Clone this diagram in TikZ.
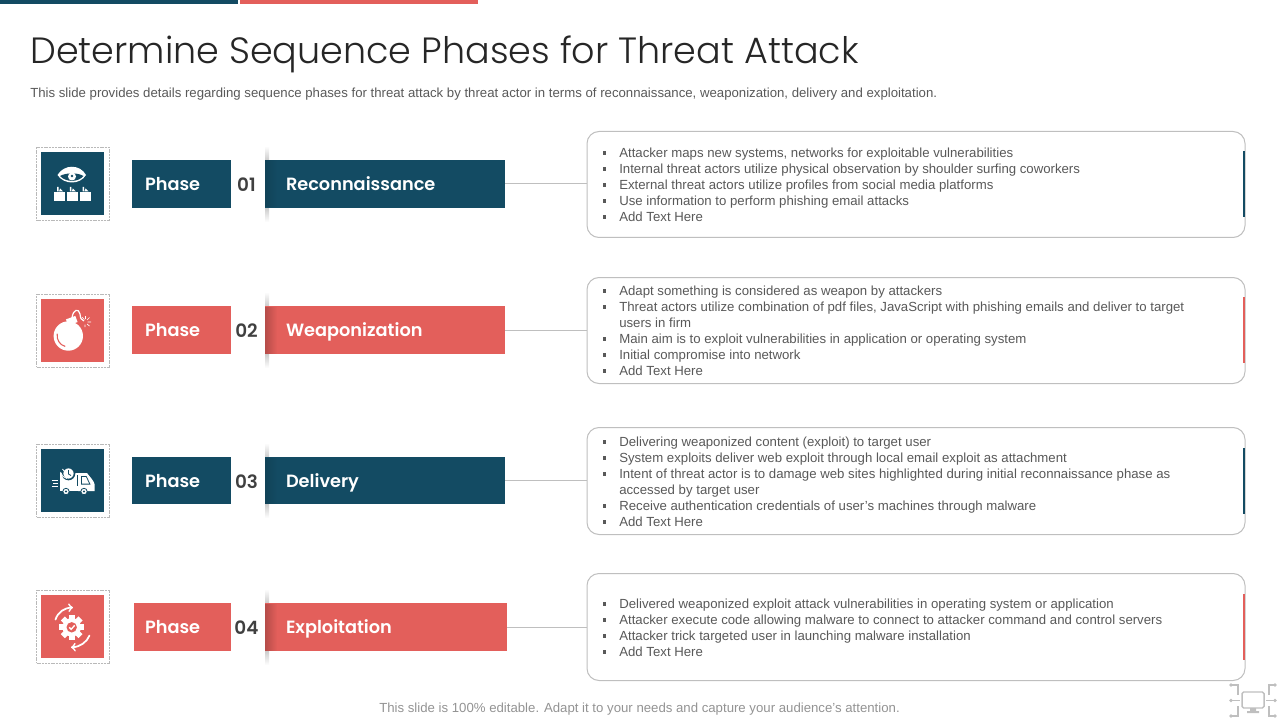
\documentclass[tikz,border=0pt]{standalone}
\usepackage{fontspec}
\setmainfont{Liberation Sans}
\newfontfamily\titlefont{Poppins Light}
\newfontfamily\headfont{Poppins SemiBold}
\definecolor{navy}{HTML}{134B63}
\definecolor{coral}{HTML}{E35F5B}
\definecolor{bodygray}{HTML}{595959}
\definecolor{rulegray}{HTML}{BFBFBF}
\newcommand{\itm}[1]{\makebox[12.4pt][l]{\raisebox{1.9pt}{\rule{2.4pt}{2.4pt}}}#1}
\newcommand{\cnt}[1]{\hspace*{12.4pt}#1}
\tikzset{
    framebox/.style={draw=gray!55, dash pattern=on 1.5pt off 0.6pt, line width=0.4pt, outer sep=0pt, minimum width=54.75pt, minimum height=54.75pt, inner sep=0pt, anchor=north west},
    iconbox/.style={fill=#1, outer sep=0pt, minimum width=47.25pt, minimum height=47.25pt, inner sep=0pt, anchor=north west},
    phasebox/.style={fill=#1, text=white, outer sep=0pt, font=\headfont\fontsize{13.3}{16}\selectfont, minimum height=36pt, inner ysep=0pt, inner xsep=9.75pt, text depth=3pt, text height=13pt, align=left, anchor=west},
    numlabel/.style={text=black!75, font=\headfont\fontsize{13.8}{16}\selectfont, inner sep=0pt},
    listbox/.style={draw=rulegray, line width=0.75pt, outer sep=0pt, rounded corners=9pt, fill=white, minimum width=493.5pt, inner sep=0pt, anchor=north west},
    listtext/.style={text=bodygray, font=\fontsize{9.9}{12}\selectfont, align=left, anchor=west, inner sep=0pt},
    link/.style={draw=rulegray, line width=0.75pt},
    softedge/.style={top color=white, bottom color=black!20, shading angle=#1},
}
\begin{document}
\begin{tikzpicture}[x=0.75pt, y=-0.75pt, >=to]
        \useasboundingbox (0,0) rectangle (1280,720);
        % ==== TOP BARS ====
        \fill[navy] (0,0) rectangle (238,4);
        \fill[coral] (240,0) rectangle (478,4);

        % ==== TITLE ====
        \node[anchor=west, inner sep=0pt, text=black!85, font=\titlefont\fontsize{27.4}{32}\selectfont] (title) at (30,54) {Determine Sequence Phases for Threat Attack};
        \node[anchor=west, inner sep=0pt, text=bodygray, font=\fontsize{9.9}{12}\selectfont] (subtitle) at (30,94) {This slide provides details regarding sequence phases for threat attack by threat actor in terms of reconnaissance, weaponization, delivery and exploitation.};

        % ==== SHADOWS ABOVE AND BELOW THE NAME BOXES ====
        \shade[softedge=0] (265,146) rectangle (269,160);
        \shade[softedge=180] (265,208) rectangle (269,222);
        \shade[softedge=0] (265,292) rectangle (269,306);
        \shade[softedge=180] (265,354) rectangle (269,368);
        \shade[softedge=0] (265,443) rectangle (269,457);
        \shade[softedge=180] (265,504) rectangle (269,518);
        \shade[softedge=0] (265,589) rectangle (269,603);
        \shade[softedge=180] (265,651) rectangle (269,665);

        % ==== ROW 1 ====
        \node[framebox] (reconframe) at (36.5,147.5) {};
        \node[iconbox=navy] (reconicon) at (41,152) {};
        \node[phasebox=navy, minimum width=74.25pt, text width=54.75pt] (reconphase) at (132,184) {Phase};
        \node[numlabel] (reconnum) at (246.5,185) {01};
        \node[phasebox=navy, minimum width=180pt, inner xsep=15.75pt, text width=148.5pt] (reconname) at (265,184) {Reconnaissance};
        \node[listbox, minimum height=79.5pt] (reconlist) at (587,131.5) {};
        \draw[link] (reconname.east) -- (reconname.east -| reconlist.west);
        \fill[navy] (1243,151) rectangle (1245,217);
        \node[listtext] (recontext) at (602.5,184.5) {%
            \itm{Attacker maps new systems, networks for exploitable vulnerabilities}\\
            \itm{Internal threat actors utilize physical observation by shoulder surfing coworkers}\\
            \itm{External threat actors utilize profiles from social media platforms}\\
            \itm{Use information to perform phishing email attacks}\\
            \itm{Add Text Here}};

        % ==== ROW 2 ====
        \node[framebox] (weapframe) at (36.5,294) {};
        \node[iconbox=coral] (weapicon) at (41,298.5) {};
        \node[phasebox=coral, minimum width=74.25pt, text width=54.75pt] (weapphase) at (132,330) {Phase};
        \node[numlabel] (weapnum) at (246.5,331) {02};
        \node[phasebox=coral, minimum width=180pt, inner xsep=15.75pt, text width=148.5pt] (weapname) at (265,330) {Weaponization};
        \node[listbox, minimum height=79.5pt] (weaplist) at (587,277.5) {};
        \draw[link] (weapname.east) -- (weapname.east -| weaplist.west);
        \fill[coral] (1243,297) rectangle (1245,363);
        \node[listtext] (weaptext) at (602.5,330.5) {%
            \itm{Adapt something is considered as weapon by attackers}\\
            \itm{Threat actors utilize combination of pdf files, JavaScript with phishing emails and deliver to target}\\
            \cnt{users in firm}\\
            \itm{Main aim is to exploit vulnerabilities in application or operating system}\\
            \itm{Initial compromise into network}\\
            \itm{Add Text Here}};

        % ==== ROW 3 ====
        \node[framebox] (delivframe) at (36.5,444) {};
        \node[iconbox=navy] (delivicon) at (41,449) {};
        \node[phasebox=navy, minimum width=74.25pt, text width=54.75pt, minimum height=35.25pt] (delivphase) at (132,480.5) {Phase};
        \node[numlabel] (delivnum) at (246.5,481.5) {03};
        \node[phasebox=navy, minimum width=180pt, inner xsep=15.75pt, text width=148.5pt, minimum height=35.25pt] (delivname) at (265,480.5) {Delivery};
        \node[listbox, minimum height=80.25pt] (delivlist) at (587,427.5) {};
        \draw[link] (delivname.east) -- (delivname.east -| delivlist.west);
        \fill[navy] (1243,448) rectangle (1245,514);
        \node[listtext] (delivtext) at (602.5,481.5) {%
            \itm{Delivering weaponized content (exploit) to target user}\\
            \itm{System exploits deliver web exploit through local email exploit as attachment}\\
            \itm{Intent of threat actor is to damage web sites highlighted during initial reconnaissance phase as}\\
            \cnt{accessed by target user}\\
            \itm{Receive authentication credentials of user's machines through malware}\\
            \itm{Add Text Here}};

        % ==== ROW 4 ====
        \node[framebox] (exploitframe) at (36.5,590) {};
        \node[iconbox=coral] (exploiticon) at (41,595) {};
        \node[phasebox=coral, minimum width=72.75pt, inner xsep=8.25pt, text width=56.25pt] (exploitphase) at (134,627) {Phase};
        \node[numlabel] (exploitnum) at (246.5,628) {04};
        \node[phasebox=coral, minimum width=181.5pt, inner xsep=15.75pt, text width=150pt] (exploitname) at (265,627) {Exploitation};
        \node[listbox, minimum height=80.25pt] (exploitlist) at (587,573.5) {};
        \draw[link] (exploitname.east) -- (exploitname.east -| exploitlist.west);
        \fill[coral] (1243,594) rectangle (1245,660);
        \node[listtext] (exploittext) at (602.5,627.5) {%
            \itm{Delivered weaponized exploit attack vulnerabilities in operating system or application}\\
            \itm{Attacker execute code allowing malware to connect to attacker command and control servers}\\
            \itm{Attacker trick targeted user in launching malware installation}\\
            \itm{Add Text Here}};

        % ==== DARKER LEFT EDGE OF THE NAME BOXES ====
        \shade[left color=navy!88!black, right color=navy] (265,161) rectangle (277,207);
        \shade[left color=coral!80!black, right color=coral] (265,307) rectangle (277,353);
        \shade[left color=navy!88!black, right color=navy] (265,458) rectangle (277,503);
        \shade[left color=coral!80!black, right color=coral] (265,604) rectangle (277,650);

        % ==== EYE ICON ====
        \fill[white] (57.5,175) .. controls (64,164) and (80,164) .. (86,175) .. controls (80,185) and (64,185) .. cycle;
        \fill[navy] (60,176) .. controls (66,172.5) and (78,172.5) .. (83.5,176) .. controls (78,182.5) and (66,182.5) .. cycle;
        \fill[white] (72,176.5) circle (4);
        \fill[navy] (72,176) circle (1.3);
        \fill[white] (54,192.5) rectangle (64.8,201);
        \fill[white] (66.8,192.5) rectangle (77.5,201);
        \fill[white] (79.5,192.5) rectangle (91,201);
        \fill[white] (57,187) rectangle (58.5,191.5) (60,188.5) -- (63,191.5) -- (59,191.5) -- cycle;
        \fill[white] (69.8,187) rectangle (71.3,191.5) (72.8,188.5) -- (75.8,191.5) -- (71.8,191.5) -- cycle;
        \fill[white] (82.5,187) rectangle (84,191.5) (85.5,188.5) -- (88.5,191.5) -- (84.5,191.5) -- cycle;

        % ==== BOMB ICON ====
        \fill[white] (68.3,336) circle (14.7);
        \fill[white, rotate around={20:(71.5,320)}] (66.5,317.5) rectangle (76.5,324);
        \draw[white, line width=0.9pt] (72,318) .. controls (73,309) and (79,308) .. (80,314) .. controls (80.5,318) and (81,320) .. (84,321);
        \draw[white, line width=0.5pt] (82,317) -- (84.5,319.5) (89.5,317.5) -- (87,320) (91,322) -- (87.5,322) (89.5,326) -- (87,324) (85,327) -- (85,324.5) (85.5,316) -- (85.5,319);
        \draw[coral, line width=0.8pt, line cap=round] (57.2,334) .. controls (56.5,340) and (60,345) .. (65,346.3);

        % ==== TRUCK ICON ====
        \fill[white] (60,473) -- (78,473) -- (78,491) -- (60,491) -- cycle;
        \fill[white] (78,473) -- (87,473) .. controls (90,477) and (94,481) .. (94.5,484) -- (94.5,491) -- (78,491) -- cycle;
        \draw[navy, line width=0.6pt] (77.5,475) -- (77.5,486);
        \fill[navy] (81,476) -- (86.5,476) -- (90.5,484.5) -- (81,484.5) -- cycle;
        \fill[white] (82,477) -- (86,477) -- (89,483.5) -- (82,483.5) -- cycle;
        \draw[navy, line width=0.6pt, fill=white] (66,491.5) circle (3.2) (84,491.5) circle (3.2);
        \fill[navy] (66,491.5) circle (1.2) (84,491.5) circle (1.2);
        \draw[navy, line width=1.2pt, fill=white] (68.5,473.5) circle (6);
        \draw[navy, line width=0.6pt] (68.5,470) -- (68.5,474) -- (71,475.5);
        \draw[white, line width=0.6pt] (60.5,472) arc (170:100:8);
        \draw[white, line width=0.6pt] (62.5,469) arc (150:110:7);
        \draw[white, line width=0.6pt] (51.5,480) -- (57.5,480) (53,483) -- (58,483) (51.5,486) -- (57.5,486);

        % ==== GEAR ICON ====
        \foreach \ang in {0,45,...,315}
            \fill[white, rotate around={\ang:(71.7,627.3)}] (68.8,614.8) rectangle (74.6,620);
        \fill[white] (71.7,627.3) circle (9.2);
        \fill[coral] (71.7,627.3) circle (5.2);
        \draw[white, line width=1pt] (69.2,627.3) -- (71.2,629.3) -- (74.7,625.3);
        \draw[->, white, line width=1.3pt, line cap=round] (55.5,619.5) .. controls (58,612) and (64,608) .. (73,607.5);
        \draw[->, white, line width=1.3pt, line cap=round] (89.5,635.5) .. controls (87,642) and (80,647) .. (71,647.3);

        % ==== FOOTER ====
        \node[text=gray!85, inner sep=0pt, font=\fontsize{9.9}{12}\selectfont] (footer) at (639.5,709) {This slide is 100\% editable. Adapt it to your needs and capture your audience's attention.};

        % ==== MONITOR MARK ====
        \draw[rulegray, line width=1.1pt, rounded corners=1.2pt] (1242,692) rectangle (1264,708);
        \fill[rulegray] (1250,708) rectangle (1256,711) (1247,711) rectangle (1259,713);
        \draw[rulegray, line width=1pt] (1231,685) -- (1238,685) -- (1238,695) (1231,700.5) -- (1240,700.5) (1231,716) -- (1238,716) -- (1238,706);
        \draw[rulegray, line width=1pt] (1275,685) -- (1269,685) -- (1269,695) (1275,700.5) -- (1266,700.5) (1275,716) -- (1269,716) -- (1269,706);
        \fill[rulegray] (1231,685) circle (1.8) (1231,700.5) circle (1.8) (1231,716) circle (1.8) (1275,685) circle (1.8) (1275,700.5) circle (1.8) (1275,716) circle (1.8);
\end{tikzpicture}
\end{document}
